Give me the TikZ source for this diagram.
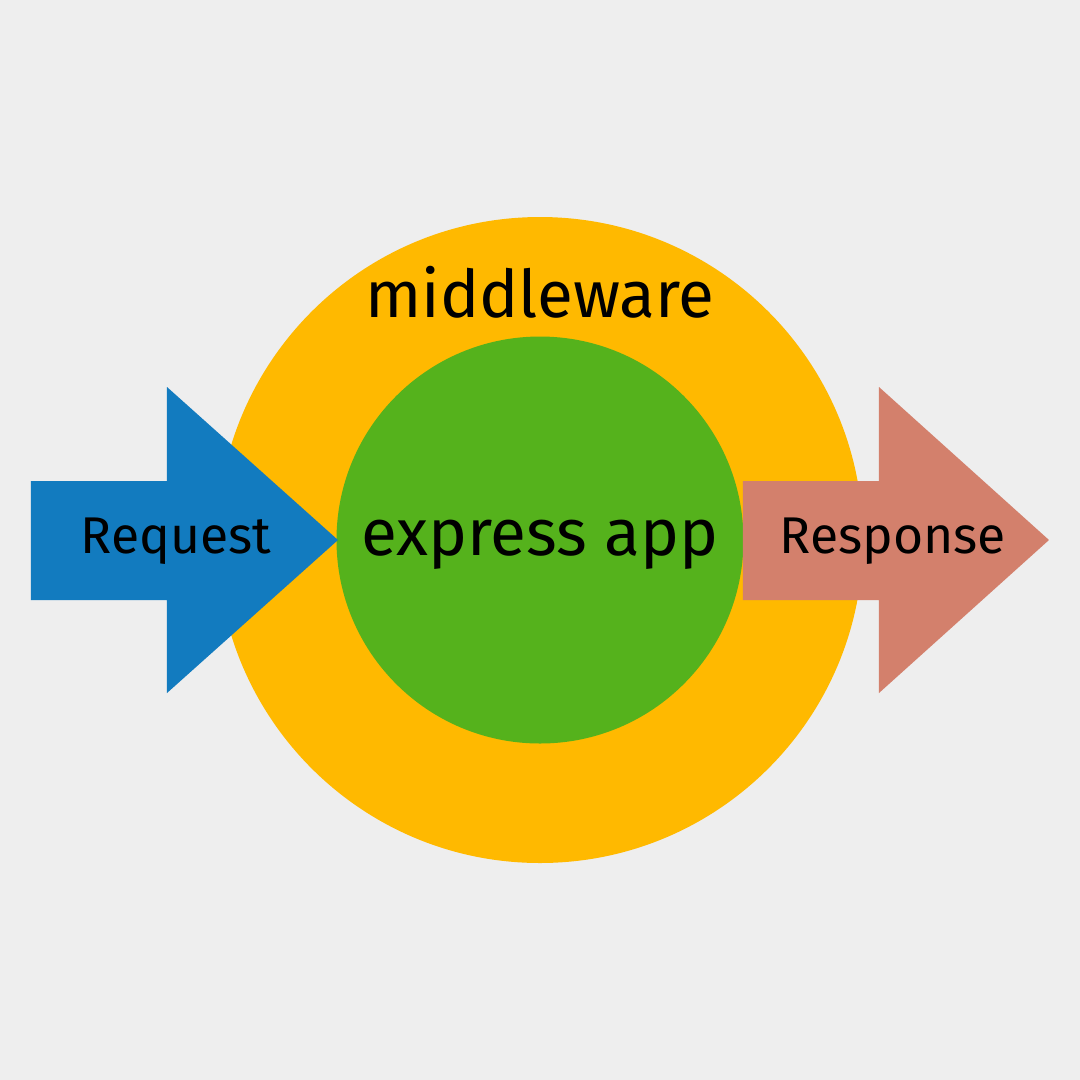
\documentclass[tikz,border=0pt]{standalone}
\usepackage{fontspec}
\setmainfont{Fira Sans}
\usepackage{tikz}
\usetikzlibrary{positioning}
\definecolor{bgGray}{HTML}{EEEEEE}
\definecolor{mwOrange}{HTML}{FFB900}
\definecolor{appGreen}{HTML}{55B21C}
\definecolor{reqBlue}{HTML}{127BBF}
\definecolor{resSalmon}{HTML}{D3806C}

\tikzset{
  ring/.style={circle, inner sep=0pt},
  bigtext/.style={font=\fontsize{18.7}{20}\selectfont, anchor=base, inner sep=0pt},
  arrowtext/.style={font=\fontsize{14.7}{16}\selectfont, anchor=base, inner sep=0pt}
}

\begin{document}
\begin{tikzpicture}[x=0.1mm, y=-0.1mm]
  % background
  \fill[bgGray] (0,0) rectangle (1080,1080);

  % middleware ring and app
  \node[ring, fill=mwOrange, minimum size=6.46cm] (mw) at (540,540) {};
  \node[ring, fill=appGreen, minimum size=4.07cm] (app) at (540,540) {};

  % request arrow
  \fill[reqBlue] (31,481) -- (167,481) -- (167,387) -- (338,540)
    -- (167,693) -- (167,600) -- (31,600) -- cycle;
  % response arrow
  \fill[resSalmon] (743,481) -- (879,481) -- (879,387) -- (1049,540)
    -- (879,693) -- (879,600) -- (743,600) -- cycle;

  % labels
  \node[bigtext] (mwlabel) at (540,317) {middleware};
  \node[bigtext] (applabel) at (540,555) {express app};
  \node[arrowtext] (req) at (176,553) {Request};
  \node[arrowtext] (res) at (893,553) {Response};
\end{tikzpicture}
\end{document}
